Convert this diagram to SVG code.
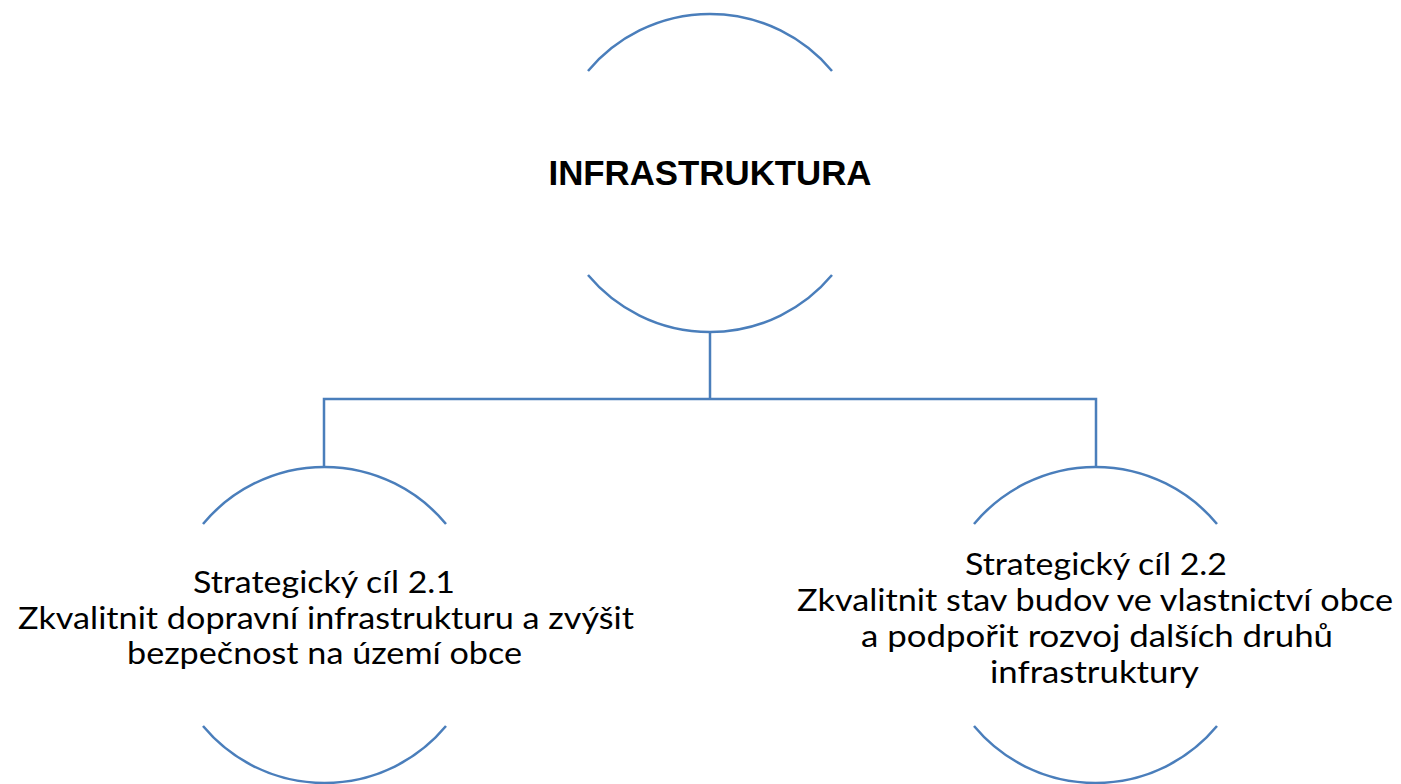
<svg xmlns="http://www.w3.org/2000/svg" width="1401" height="784" viewBox="0 0 1401 784">
<style>
.arc{fill:none;stroke:#4a7ebb;stroke-width:2.5}
.con{fill:none;stroke:#4a7ebb;stroke-width:2.5}
.t{font-family:Lato,"Liberation Sans",sans-serif;font-size:31.5px;fill:#000;text-anchor:middle}
.title{font-family:"Liberation Sans",Arial,sans-serif;font-size:35px;font-weight:bold;fill:#000;text-anchor:middle}
</style>
<rect width="1401" height="784" fill="#fff"/>
<g id="connectors">
<path class="con" d="M710,332 V399"/>
<path class="con" d="M324,467 V399 H1096 V467"/>
</g>
<g id="node-infrastruktura">
<path class="arc" d="M588,71 A159,159 0 0,1 832,71"/>
<path class="arc" d="M588,275 A159,159 0 0,0 832,275"/>
<text class="title" x="710" y="185" textLength="323" lengthAdjust="spacingAndGlyphs">INFRASTRUKTURA</text>
</g>
<g id="node-cil-2-1">
<path class="arc" d="M203,524 A158,158 0 0,1 446,524"/>
<path class="arc" d="M203,726 A158,158 0 0,0 446,726"/>
<text class="t" x="324" y="593" textLength="262" lengthAdjust="spacingAndGlyphs">Strategický cíl 2.1</text>
<text class="t" x="326" y="629" textLength="616" lengthAdjust="spacingAndGlyphs">Zkvalitnit dopravní infrastrukturu a zvýšit</text>
<text class="t" x="324.5" y="664" textLength="395" lengthAdjust="spacingAndGlyphs">bezpečnost na území obce</text>
</g>
<g id="node-cil-2-2">
<path class="arc" d="M974,524 A158,158 0 0,1 1217,524"/>
<path class="arc" d="M974,726 A158,158 0 0,0 1217,726"/>
<text class="t" x="1096" y="575" textLength="262" lengthAdjust="spacingAndGlyphs">Strategický cíl 2.2</text>
<text class="t" x="1095" y="611" textLength="596" lengthAdjust="spacingAndGlyphs">Zkvalitnit stav budov ve vlastnictví obce</text>
<text class="t" x="1097" y="647" textLength="472" lengthAdjust="spacingAndGlyphs">a podpořit rozvoj dalších druhů</text>
<text class="t" x="1094.5" y="683" textLength="209" lengthAdjust="spacingAndGlyphs">infrastruktury</text>
</g>
</svg>
